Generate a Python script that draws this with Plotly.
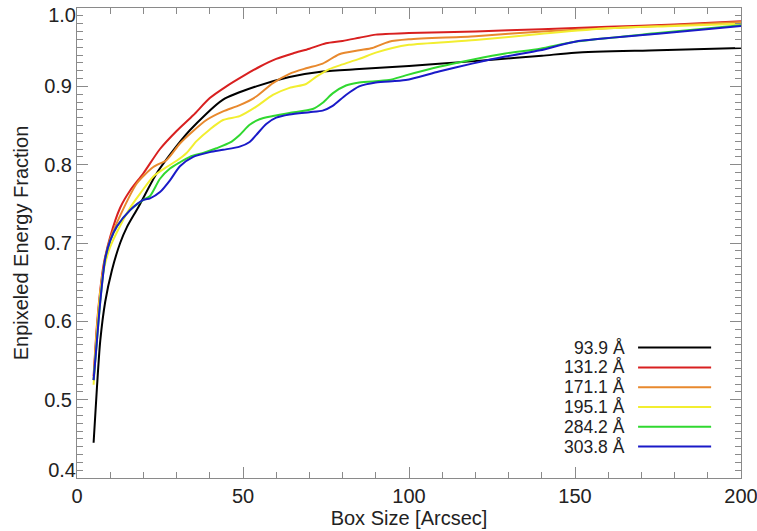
import plotly.graph_objects as go

labels = ["93.9 Å", "131.2 Å", "171.1 Å", "195.1 Å", "284.2 Å", "303.8 Å"]
colors = ["#000000", "#d82020", "#e8892e", "#f2ee30", "#30d830", "#1a1ac8"]

x_black = [5, 6, 7, 8.5, 10.5, 13, 15, 18.5, 24, 27.5, 34, 44, 54, 64, 74, 85, 100, 110, 125, 140, 150, 175, 200]
y_black = [0.445, 0.515, 0.575, 0.625, 0.665, 0.70, 0.72, 0.746, 0.789, 0.81, 0.844, 0.883, 0.900, 0.912, 0.919, 0.922, 0.926, 0.929, 0.934, 0.939, 0.943, 0.946, 0.949]

x_red = [5, 6, 7, 8, 10, 13, 16, 20, 25, 30, 35, 40, 45, 50, 55, 60, 65, 70, 75, 80, 85, 90, 100, 120, 140, 160, 180, 200]
y_red = [0.53, 0.595, 0.64, 0.672, 0.708, 0.745, 0.767, 0.789, 0.82, 0.843, 0.863, 0.885, 0.90, 0.913, 0.925, 0.935, 0.942, 0.948, 0.955, 0.958, 0.962, 0.966, 0.968, 0.970, 0.973, 0.976, 0.979, 0.983]

x_orange = [5, 6, 7, 8, 10, 13, 18, 23, 27, 31, 35, 39, 44, 49, 54, 59, 64, 69, 74, 79, 85, 89, 94, 100, 120, 140, 160, 180, 200]
y_orange = [0.525, 0.59, 0.635, 0.668, 0.705, 0.735, 0.776, 0.797, 0.806, 0.827, 0.843, 0.857, 0.868, 0.876, 0.887, 0.904, 0.916, 0.923, 0.929, 0.941, 0.946, 0.949, 0.957, 0.960, 0.964, 0.970, 0.974, 0.978, 0.982]

x_yellow = [5, 6, 7, 8, 10, 13, 16, 19, 23, 27, 30, 33, 36, 40, 44, 49, 54, 59, 64, 69, 72, 76, 80, 85, 90, 95, 100, 120, 140, 160, 180, 200]
y_yellow = [0.519, 0.585, 0.635, 0.665, 0.695, 0.722, 0.745, 0.763, 0.785, 0.797, 0.805, 0.815, 0.83, 0.845, 0.857, 0.862, 0.874, 0.889, 0.898, 0.903, 0.912, 0.922, 0.928, 0.935, 0.943, 0.949, 0.953, 0.959, 0.967, 0.974, 0.977, 0.980]

x_green = [5, 6, 7, 8.5, 10, 12, 16, 20, 22, 25, 28, 31, 34, 38, 42, 46, 49, 52, 55, 59, 64, 71, 74, 77, 81, 85, 94, 99, 109, 119, 129, 139.5, 150, 175, 200]
y_green = [0.525, 0.575, 0.625, 0.68, 0.703, 0.721, 0.742, 0.755, 0.760, 0.782, 0.795, 0.803, 0.810, 0.815, 0.821, 0.828, 0.838, 0.851, 0.858, 0.862, 0.866, 0.871, 0.879, 0.891, 0.901, 0.905, 0.908, 0.914, 0.925, 0.934, 0.942, 0.948, 0.957, 0.968, 0.978]

x_blue = [5, 6, 7, 8.5, 10, 12, 16, 20, 22, 25, 28, 31, 35, 40, 44, 49, 52, 54, 57, 60, 64, 70, 74, 77, 81, 85, 90, 99, 109, 119, 129, 139.5, 150, 175, 200]
y_blue = [0.525, 0.575, 0.625, 0.68, 0.703, 0.721, 0.742, 0.755, 0.757, 0.765, 0.780, 0.798, 0.810, 0.816, 0.819, 0.823, 0.829, 0.838, 0.852, 0.860, 0.864, 0.867, 0.869, 0.875, 0.889, 0.900, 0.905, 0.908, 0.919, 0.929, 0.938, 0.946, 0.957, 0.967, 0.977]

series_x = [x_black, x_red, x_orange, x_yellow, x_green, x_blue]
series_y = [y_black, y_red, y_orange, y_yellow, y_green, y_blue]

# y tick labels: the end labels are nudged inwards (as in the original IDL plot)
y_ticks_mid = [0.5, 0.6, 0.7, 0.8, 0.9]
y_tick_top = [1.0]
y_tick_bottom = [0.4]

FONT = "Liberation Sans, Arial, Helvetica, sans-serif"
FS = 20
LEG_FS = 17.5
TXT = "#222222"
AX = "#8a8a8a"

fig = go.Figure()
for xs, ys, lab, col in zip(series_x, series_y, labels, colors):
    fig.add_trace(go.Scatter(x=xs, y=ys, mode="lines", name=lab,
                             line=dict(color=col, width=2, shape="spline", smoothing=0.7),
                             showlegend=False))

# invisible carriers so the overlay axes (used only for shifted end labels) are drawn
for ax in ["y2", "y3"]:
    fig.add_trace(go.Scatter(x=x_black, y=y_black, yaxis=ax, mode="lines",
                             line=dict(width=0, color="rgba(0,0,0,0)"),
                             hoverinfo="skip", showlegend=False))

# custom legend: text on the left, line sample on the right
leg_top = 0.2775
leg_step = 19.8 / 470
for i, (lab, col) in enumerate(zip(labels, colors)):
    yp = leg_top - i * leg_step
    fig.add_annotation(x=0.827, y=yp, xref="paper", yref="paper", text=lab,
                       showarrow=False, xanchor="right", yanchor="middle", borderpad=0,
                       font=dict(family=FONT, size=LEG_FS, color=TXT))
    fig.add_shape(type="line", xref="paper", yref="paper",
                  x0=0.845, x1=0.955, y0=yp, y1=yp,
                  line=dict(color=col, width=2))

axis_common = dict(
    showgrid=False, zeroline=False, showline=True, linecolor=AX, linewidth=1,
    mirror="ticks", ticks="inside", tickcolor=AX, ticklen=11, tickwidth=1,
    ticklabeloverflow="allow",
    tickfont=dict(family=FONT, size=FS, color=TXT),
)

fig.update_xaxes(range=[0, 200], tick0=0, dtick=50,
                 minor=dict(dtick=10, ticks="inside", ticklen=6, tickcolor=AX, showgrid=False),
                 title=dict(text="Box Size [Arcsec]", font=dict(family=FONT, size=FS, color=TXT), standoff=0),
                 **axis_common)

all_y = y_tick_bottom + y_ticks_mid + y_tick_top
fig.update_yaxes(range=[0.4, 1.0], tickvals=all_y,
                 ticktext=["" if v in y_tick_bottom + y_tick_top else f"{v:.1f}" for v in all_y],
                 minor=dict(dtick=0.01, ticks="inside", ticklen=6, tickcolor=AX, showgrid=False),
                 title=dict(text="Enpixeled Energy Fraction", font=dict(family=FONT, size=FS, color=TXT), standoff=10),
                 **axis_common)

overlay_common = dict(overlaying="y", side="left", range=[0.4, 1.0], showgrid=False,
                      zeroline=False, showline=False, ticks="", ticklabeloverflow="allow",
                      tickfont=dict(family=FONT, size=FS, color=TXT))
fig.update_layout(
    yaxis2=dict(tickvals=y_tick_top, ticktext=[f"{v:.1f}" for v in y_tick_top],
                ticklabelshift=7, **overlay_common),
    yaxis3=dict(tickvals=y_tick_bottom, ticktext=[f"{v:.1f}" for v in y_tick_bottom],
                ticklabelshift=-8, **overlay_common),
)

fig.update_layout(
    width=757, height=531,
    margin=dict(l=77, r=16, t=8, b=53, autoexpand=False),
    paper_bgcolor="white", plot_bgcolor="white",
)

fig.write_html("out.html")
